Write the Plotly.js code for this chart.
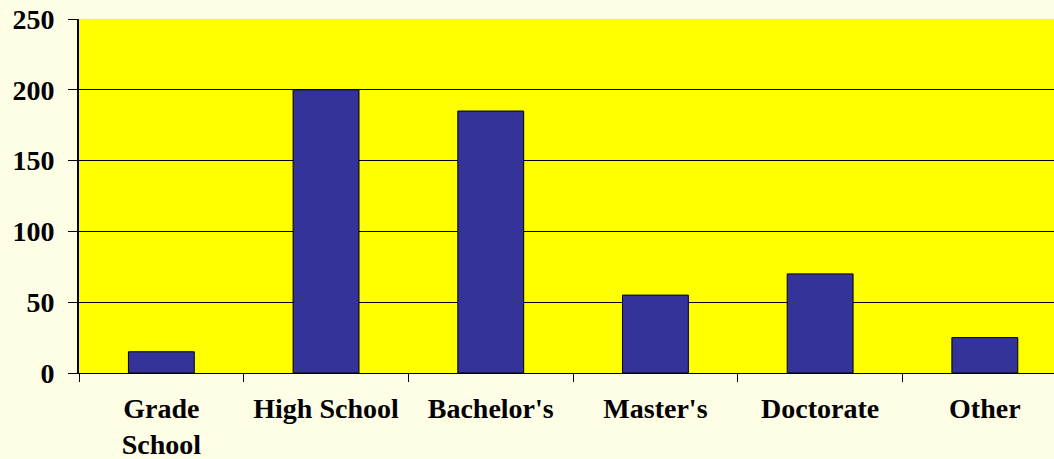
<!DOCTYPE html>
<html><head><meta charset="utf-8">
<script src="https://cdn.plot.ly/plotly-3.0.1.min.js"></script>
<style>html,body{margin:0;padding:0;background:#FEFDE6;}#chart{width:1054px;height:459px;}</style>
</head><body><div id="chart"></div>
<script>
const categories = ["Grade<br>School", "High School", "Bachelor's", "Master's", "Doctorate", "Other"];
const values = [15, 200, 185, 55, 70, 25];
const yTicks = [0, 50, 100, 150, 200, 250];

const trace = {
  type: 'bar',
  x: categories.map(c => '<b>' + c + '</b>'),
  y: values,
  width: 0.4,
  marker: {color: '#333399', line: {color: '#000000', width: 1}},
  hoverinfo: 'skip'
};
const font = {family: '"Liberation Serif", "Times New Roman", serif', size: 28, color: '#000'};
const layout = {
  width: 1054, height: 459,
  margin: {l: 79, r: 0, t: 19, b: 86},
  paper_bgcolor: '#FEFDE6',
  plot_bgcolor: '#FFFF00',
  showlegend: false,
  font: font,
  xaxis: {
    type: 'category',
    range: [-0.5, 5.42],
    tickson: 'boundaries',
    ticks: 'outside', ticklen: 8, tickcolor: '#000', tickwidth: 1,
    showgrid: false, zeroline: false,
    showline: true, linecolor: '#000', linewidth: 1,
    tickfont: font,
    ticklabelstandoff: 10
  },
  yaxis: {
    range: [0, 250],
    tickmode: 'array',
    tickvals: yTicks,
    ticktext: yTicks.map(v => '<b>' + v + '</b>'),
    ticks: 'outside', ticklen: 9, tickcolor: '#000', tickwidth: 1,
    showgrid: true, gridcolor: '#000', gridwidth: 1,
    zeroline: false,
    showline: true, linecolor: '#000', linewidth: 2,
    tickfont: font,
    ticklabelstandoff: 8
  }
};
Plotly.newPlot('chart', [trace], layout, {staticPlot: true});
</script></body></html>
